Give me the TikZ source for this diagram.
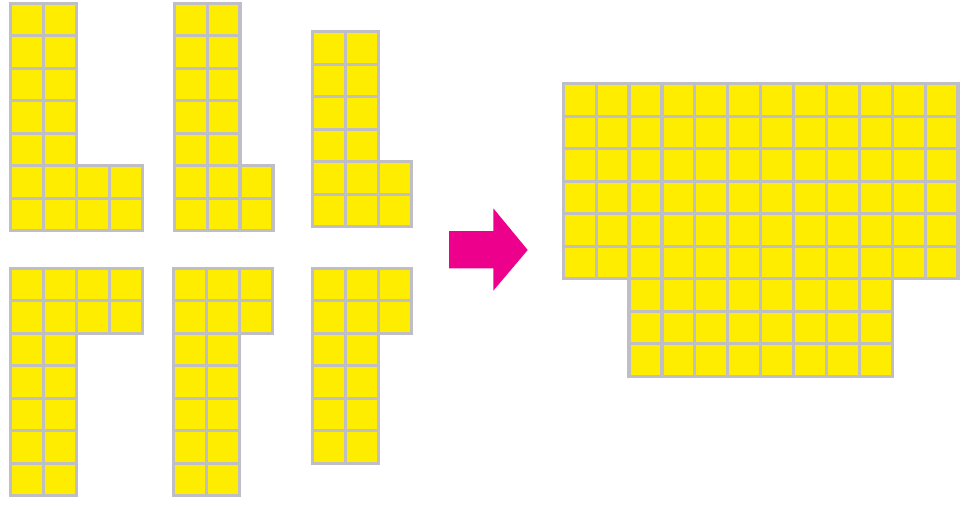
\documentclass[tikz,border=0pt]{standalone}
\definecolor{cellyellow}{RGB}{255,237,0}
\definecolor{cellgray}{RGB}{190,190,196}
\definecolor{arrowpink}{RGB}{236,0,140}
\tikzset{
  cell/.style={fill=cellyellow,draw=cellgray,line width=3.2pt},
  bigarrow/.style={fill=arrowpink,draw=none}
}
% #1,#2 origin; #3 first col, #4 ncols; #5 first row, #6 nrows
\newcommand\blk[6]{%
  \foreach \i in {1,...,#4}{%
    \foreach \j in {1,...,#6}{%
      \draw[cell] ({#1+(#3+\i-1)*32.9},{#2+(#5+\j-1)*32.5}) rectangle ++(32.9,32.5);
    }%
  }%
}
\begin{document}
\begin{tikzpicture}[x=1pt,y=-1pt]
\useasboundingbox (0,0) rectangle (978,504);
% top row of pieces
\blk{10.5}{3.2}{0}{2}{0}{5}
\blk{10.5}{3.2}{0}{4}{5}{2}
\blk{174.2}{3.2}{0}{2}{0}{5}
\blk{174.2}{3.2}{0}{3}{5}{2}
\blk{312.5}{31.8}{0}{2}{0}{4}
\blk{312.5}{31.8}{0}{3}{4}{2}
% bottom row of pieces
\blk{10.5}{268.2}{0}{4}{0}{2}
\blk{10.5}{268.2}{0}{2}{2}{5}
\blk{173.8}{268.2}{0}{3}{0}{2}
\blk{173.8}{268.2}{0}{2}{2}{5}
\blk{312.5}{268.2}{0}{3}{0}{2}
\blk{312.5}{268.2}{0}{2}{2}{4}
% arrow
\fill[bigarrow] (449,231) -- (493.3,231) -- (493.3,208.3) -- (527.7,250)
  -- (493.3,290.7) -- (493.3,268.3) -- (449,268.3) -- cycle;
% assembled shape
\blk{563.2}{83.8}{0}{12}{0}{6}
\blk{563.2}{83.8}{2}{8}{6}{3}
\end{tikzpicture}
\end{document}
